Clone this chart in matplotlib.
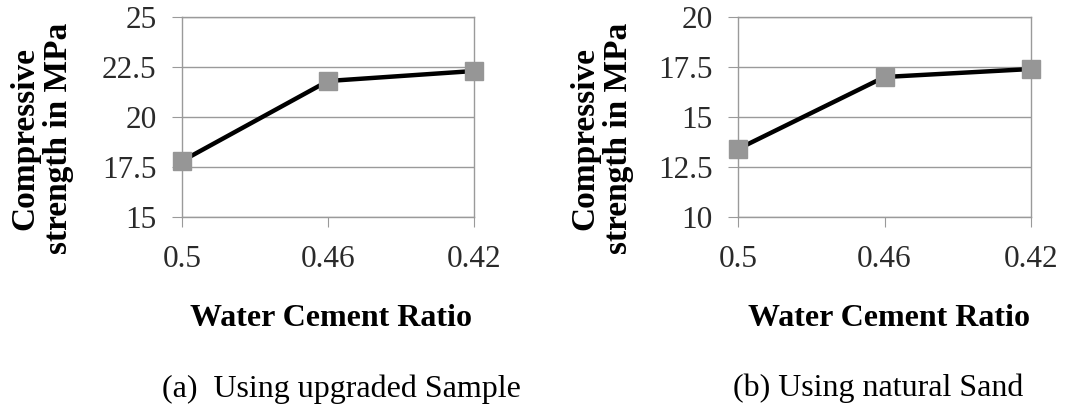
import matplotlib
matplotlib.use('Agg')
import matplotlib.pyplot as plt

plt.rcParams['font.family'] = ['Liberation Serif', 'DejaVu Serif']

ratios = ['0.5', '0.46', '0.42']
upgraded = [17.8, 21.8, 22.3]
natural = [13.4, 17.0, 17.4]

W, H = 1074, 409
fig = plt.figure(figsize=(W / 100, H / 100), dpi=100)

def px_axes(x0, y0, x1, y1):
    return fig.add_axes([x0 / W, 1 - y1 / H, (x1 - x0) / W, (y1 - y0) / H])

def draw(ax, vals, lo, hi):
    ax.plot(ratios, vals, color='black', lw=3.2, marker='s', ms=12.5,
            mfc='#969696', mec='#969696', zorder=3, clip_on=False)
    ax.set_xlim(0, len(ratios) - 1)
    ax.set_ylim(lo, hi)
    ax.set_yticks([lo + 2.5 * i for i in range(5)])
    ax.set_yticklabels(['%g' % (lo + 2.5 * i) for i in range(5)])
    ax.grid(axis='y', color='#9a9a9a', lw=1)
    ax.set_axisbelow(True)
    for s in ax.spines.values():
        s.set_color('#9a9a9a')
        s.set_linewidth(1)
    ax.tick_params(axis='y', length=7.2, color='#9a9a9a', labelsize=22.5, pad=11, labelcolor='#2a2a2a')
    ax.tick_params(axis='x', length=7.2, color='#9a9a9a', labelsize=22.5, pad=13, labelcolor='#2a2a2a')

ax1 = px_axes(182, 17, 474, 217)
draw(ax1, upgraded, 15, 25)
ax2 = px_axes(738, 17, 1031, 217)
draw(ax2, natural, 10, 20)

ylab = 'Compressive\nstrength in MPa'
for cx in (42, 602):
    fig.text(cx / W, 1 - 138 / H, ylab, rotation=90, ha='center', va='center',
             fontsize=24, fontweight='bold', linespacing=1.1, multialignment='center')

for cx in (331, 889):
    fig.text(cx / W, 1 - 319 / H, 'Water Cement Ratio', ha='center', va='center',
             fontsize=23, fontweight='bold')

fig.text(341 / W, 1 - 389 / H, '(a)  Using upgraded Sample', ha='center', va='center', fontsize=23)
fig.text(878 / W, 1 - 388 / H, '(b) Using natural Sand', ha='center', va='center', fontsize=23)

fig.savefig('out.png', dpi=100)
